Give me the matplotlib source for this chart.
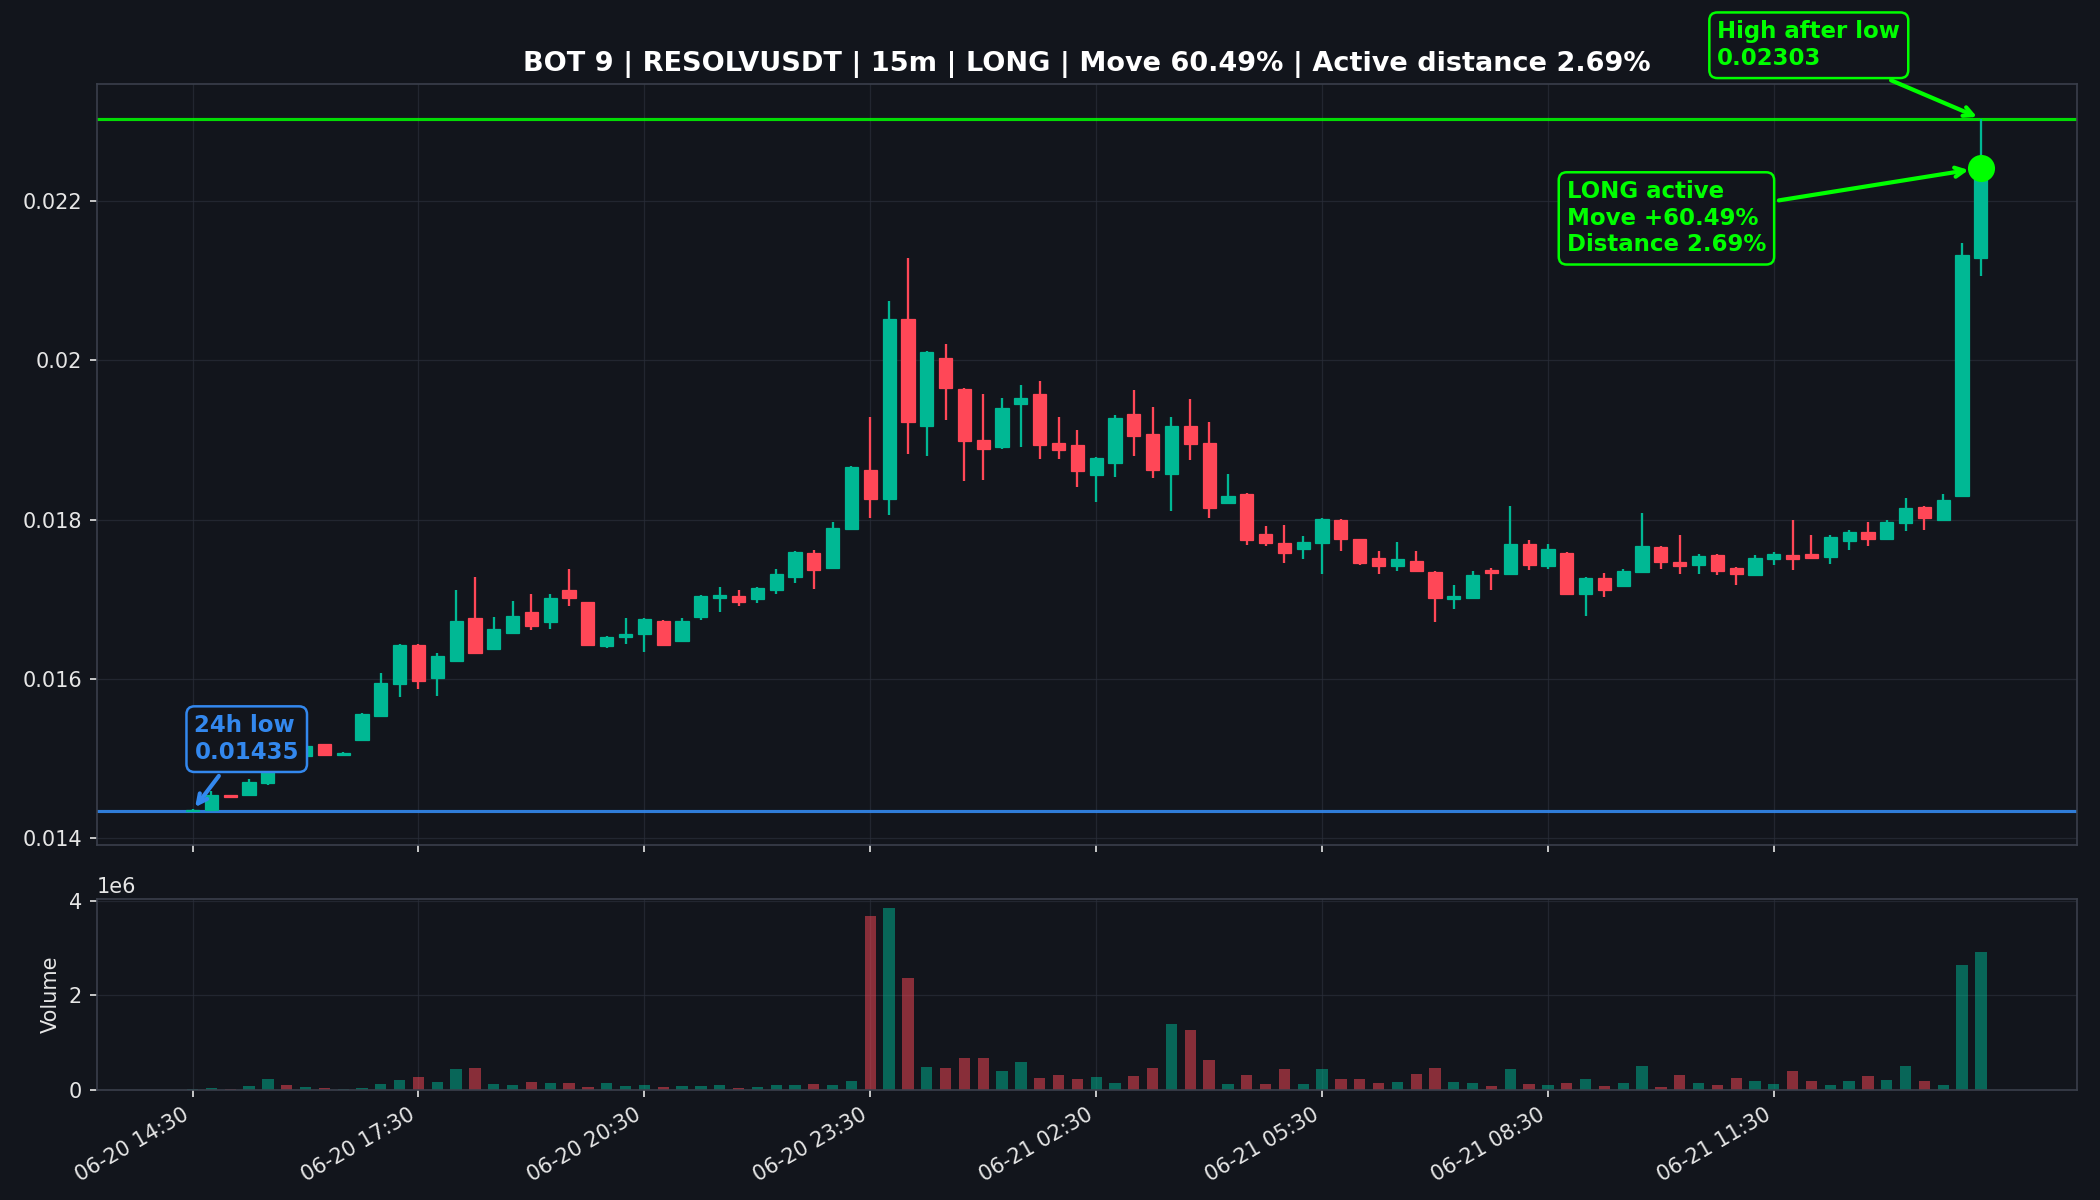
import numpy as np
import matplotlib
matplotlib.use("Agg")
import matplotlib.pyplot as plt
from matplotlib.ticker import FuncFormatter

# 15m candles, 06-20 14:30 -> 06-21 14:15
opens = [0.01435, 0.01436, 0.01454, 0.01455, 0.01469, 0.01500, 0.01503, 0.01518, 0.01505, 0.01523,
         0.01553, 0.01594, 0.01643, 0.01601, 0.01623, 0.01677, 0.01637, 0.01658, 0.01684, 0.01671,
         0.01711, 0.01697, 0.01641, 0.01653, 0.01656, 0.01673, 0.01648, 0.01678, 0.01702, 0.01704,
         0.01700, 0.01712, 0.01728, 0.01758, 0.01739, 0.01788, 0.01862, 0.01826, 0.02051, 0.01917,
         0.02003, 0.01964, 0.01900, 0.01891, 0.01945, 0.01957, 0.01896, 0.01893, 0.01856, 0.01871,
         0.01933, 0.01907, 0.01857, 0.01917, 0.01896, 0.01821, 0.01832, 0.01782, 0.01770, 0.01763,
         0.01771, 0.01800, 0.01775, 0.01752, 0.01742, 0.01748, 0.01734, 0.01700, 0.01702, 0.01737,
         0.01732, 0.01769, 0.01742, 0.01758, 0.01707, 0.01727, 0.01717, 0.01734, 0.01766, 0.01747,
         0.01743, 0.01756, 0.01739, 0.01731, 0.01750, 0.01756, 0.01757, 0.01753, 0.01773, 0.01784,
         0.01776, 0.01796, 0.01816, 0.01799, 0.01829, 0.02128]
highs = [0.01437, 0.01460, 0.01455, 0.01475, 0.01502, 0.01508, 0.01517, 0.01519, 0.01509, 0.01557,
         0.01608, 0.01644, 0.01644, 0.01632, 0.01712, 0.01728, 0.01678, 0.01698, 0.01707, 0.01706,
         0.01738, 0.01697, 0.01654, 0.01677, 0.01676, 0.01674, 0.01677, 0.01705, 0.01716, 0.01711,
         0.01715, 0.01738, 0.01761, 0.01762, 0.01797, 0.01867, 0.01929, 0.02074, 0.02128, 0.02011,
         0.02020, 0.01965, 0.01957, 0.01952, 0.01969, 0.01974, 0.01929, 0.01912, 0.01878, 0.01931,
         0.01963, 0.01941, 0.01929, 0.01951, 0.01923, 0.01857, 0.01833, 0.01792, 0.01793, 0.01779,
         0.01802, 0.01801, 0.01776, 0.01761, 0.01772, 0.01761, 0.01735, 0.01718, 0.01735, 0.01739,
         0.01817, 0.01774, 0.01769, 0.01759, 0.01728, 0.01733, 0.01738, 0.01808, 0.01767, 0.01780,
         0.01757, 0.01757, 0.01740, 0.01755, 0.01759, 0.01800, 0.01780, 0.01781, 0.01787, 0.01797,
         0.01800, 0.01827, 0.01817, 0.01832, 0.02147, 0.02303]
lows = [0.01435, 0.01435, 0.01452, 0.01455, 0.01467, 0.01489, 0.01502, 0.01505, 0.01503, 0.01523,
        0.01553, 0.01578, 0.01587, 0.01579, 0.01622, 0.01632, 0.01637, 0.01658, 0.01661, 0.01663,
        0.01691, 0.01642, 0.01639, 0.01644, 0.01634, 0.01641, 0.01648, 0.01674, 0.01684, 0.01692,
        0.01695, 0.01707, 0.01720, 0.01713, 0.01739, 0.01788, 0.01802, 0.01806, 0.01882, 0.01880,
        0.01925, 0.01848, 0.01850, 0.01888, 0.01891, 0.01876, 0.01876, 0.01841, 0.01822, 0.01854,
        0.01880, 0.01852, 0.01811, 0.01875, 0.01802, 0.01821, 0.01768, 0.01767, 0.01745, 0.01750,
        0.01732, 0.01761, 0.01743, 0.01732, 0.01736, 0.01735, 0.01672, 0.01688, 0.01702, 0.01712,
        0.01730, 0.01737, 0.01738, 0.01705, 0.01679, 0.01703, 0.01716, 0.01733, 0.01738, 0.01732,
        0.01732, 0.01731, 0.01718, 0.01730, 0.01743, 0.01737, 0.01750, 0.01744, 0.01762, 0.01767,
        0.01775, 0.01786, 0.01787, 0.01798, 0.01828, 0.02106]
closes = [0.01436, 0.01455, 0.01452, 0.01471, 0.01500, 0.01496, 0.01516, 0.01505, 0.01507, 0.01556,
          0.01595, 0.01643, 0.01598, 0.01629, 0.01673, 0.01633, 0.01663, 0.01679, 0.01667, 0.01702,
          0.01701, 0.01642, 0.01653, 0.01657, 0.01675, 0.01642, 0.01673, 0.01704, 0.01705, 0.01697,
          0.01714, 0.01732, 0.01759, 0.01737, 0.01790, 0.01866, 0.01826, 0.02052, 0.01923, 0.02010,
          0.01965, 0.01898, 0.01888, 0.01940, 0.01953, 0.01893, 0.01887, 0.01861, 0.01877, 0.01927,
          0.01905, 0.01862, 0.01917, 0.01895, 0.01814, 0.01830, 0.01774, 0.01770, 0.01758, 0.01772,
          0.01801, 0.01775, 0.01746, 0.01742, 0.01750, 0.01735, 0.01702, 0.01704, 0.01730, 0.01733,
          0.01769, 0.01743, 0.01763, 0.01707, 0.01727, 0.01712, 0.01735, 0.01767, 0.01747, 0.01742,
          0.01754, 0.01736, 0.01732, 0.01752, 0.01757, 0.01751, 0.01752, 0.01778, 0.01784, 0.01776,
          0.01797, 0.01814, 0.01802, 0.01824, 0.02132, 0.02241]
volumes = [0.01, 0.03, 0.01, 0.07, 0.22, 0.09, 0.05, 0.03, 0.01, 0.03,
           0.11, 0.20, 0.26, 0.16, 0.43, 0.45, 0.11, 0.09, 0.16, 0.14,
           0.14, 0.05, 0.14, 0.07, 0.09, 0.05, 0.07, 0.07, 0.09, 0.03,
           0.05, 0.09, 0.09, 0.11, 0.09, 0.18, 3.67, 3.84, 2.37, 0.48,
           0.45, 0.67, 0.67, 0.39, 0.58, 0.24, 0.31, 0.22, 0.26, 0.14,
           0.28, 0.45, 1.39, 1.27, 0.63, 0.11, 0.31, 0.11, 0.43, 0.11,
           0.43, 0.22, 0.22, 0.14, 0.16, 0.33, 0.45, 0.16, 0.14, 0.07,
           0.43, 0.11, 0.09, 0.14, 0.22, 0.07, 0.14, 0.50, 0.05, 0.31,
           0.14, 0.09, 0.24, 0.18, 0.11, 0.39, 0.18, 0.09, 0.18, 0.28,
           0.20, 0.50, 0.18, 0.09, 2.63, 2.91]
volumes = [v * 1e6 for v in volumes]

tick_labels = ["06-20 14:30", "06-20 17:30", "06-20 20:30", "06-20 23:30",
               "06-21 02:30", "06-21 05:30", "06-21 08:30", "06-21 11:30"]

low_24h = 0.01435
high_after = 0.02303
entry_price = 0.02241
title = "BOT 9 | RESOLVUSDT | 15m | LONG | Move 60.49% | Active distance 2.69%"

# style
bg = "#12151c"
up = "#00b894"
down = "#ff4757"
lime = "#00ff00"
blue = "#3388ee"
txt = "#e6e6e6"
plt.rcParams.update({
    "text.color": txt, "axes.labelcolor": txt,
    "xtick.color": txt, "ytick.color": txt,
    "axes.edgecolor": "#3a3f4b", "font.size": 10,
})

o = np.array(opens); h = np.array(highs); l = np.array(lows); c = np.array(closes)
x = np.arange(len(o))
colors = np.where(c >= o, up, down)

fig = plt.figure(figsize=(14, 8), dpi=150, facecolor=bg)
gs = fig.add_gridspec(2, 1, height_ratios=[4, 1], hspace=0.114,
                      left=0.046, right=0.989, top=0.93, bottom=0.092)
ax = fig.add_subplot(gs[0])
axv = fig.add_subplot(gs[1], sharex=ax)

for a in (ax, axv):
    a.set_facecolor(bg)
    a.grid(True, color="#2a2e39", lw=0.6, alpha=0.7)
    a.set_axisbelow(True)
    for s in a.spines.values():
        s.set_color("#3a3f4b")

# candles
ax.vlines(x, l, h, colors=colors, lw=1.1, zorder=2)
ax.bar(x, np.abs(c - o), bottom=np.minimum(o, c), width=0.7, color=colors,
       edgecolor=colors, lw=0.6, zorder=3)

ax.axhline(high_after, color=lime, lw=1.5, alpha=0.85, zorder=1)
ax.axhline(low_24h, color=blue, lw=1.5, alpha=0.9, zorder=1)
ax.plot([x[-1]], [entry_price], "o", color=lime, ms=12, zorder=6)

ax.annotate("24h low\n0.01435", xy=(0, low_24h), xytext=(0.1, 0.015245),
            color=blue, fontsize=11, fontweight="bold", ha="left", va="center",
            bbox=dict(boxstyle="round,pad=0.35", fc=bg, ec=blue, lw=1.2),
            arrowprops=dict(arrowstyle="->", color=blue, lw=2), zorder=7)
ax.annotate("High after low\n0.02303", xy=(x[-1], high_after), xytext=(81.0, 0.02395),
            color=lime, fontsize=11, fontweight="bold", ha="left", va="center",
            bbox=dict(boxstyle="round,pad=0.35", fc=bg, ec=lime, lw=1.2),
            arrowprops=dict(arrowstyle="->", color=lime, lw=2),
            annotation_clip=False, zorder=7)
ax.annotate("LONG active\nMove +60.49%\nDistance 2.69%", xy=(x[-1], entry_price),
            xytext=(73.0, 0.021778),
            color=lime, fontsize=11, fontweight="bold", ha="left", va="center",
            bbox=dict(boxstyle="round,pad=0.35", fc=bg, ec=lime, lw=1.2),
            arrowprops=dict(arrowstyle="->", color=lime, lw=2, shrinkB=6), zorder=7)

ax.set_ylim(0.013916, 0.023464)
ax.yaxis.set_major_formatter(FuncFormatter(lambda v, p: f"{v:g}"))
ax.set_title(title, color="white", fontsize=13, fontweight="bold")
ax.tick_params(labelbottom=False)

# volume
axv.bar(x, volumes, width=0.6, color=colors, alpha=0.5, zorder=2)
axv.set_ylabel("Volume")
axv.yaxis.get_offset_text().set_color(txt)
axv.set_xlim(-5.1, 100.1)
axv.set_xticks(x[::12])
axv.set_xticklabels(tick_labels)
plt.setp(axv.get_xticklabels(), rotation=30, ha="right")

fig.savefig("out.png", dpi=150, facecolor=bg)
